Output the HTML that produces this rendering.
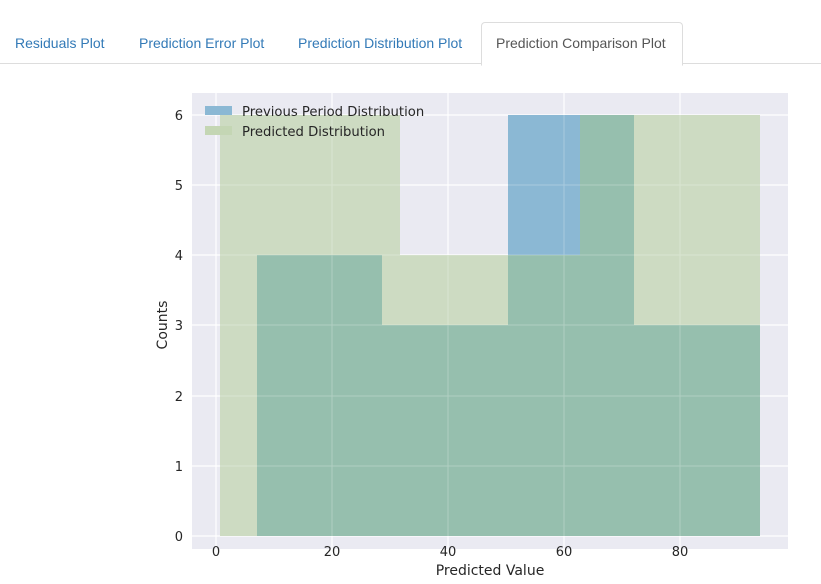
<!DOCTYPE html>
<html><head><style>
body{margin:0;width:821px;height:584px;background:#fff;font-family:"Liberation Sans",sans-serif;position:relative;overflow:hidden}
.tab{position:absolute;top:35px;font-size:14px;color:#337ab7}
</style></head><body>
<div style="position:absolute;left:0;top:63px;width:821px;height:1px;background:#ddd"></div>
<div style="position:absolute;left:481px;top:22px;width:200px;height:42px;border:1px solid #ddd;border-bottom:1px solid #fff;border-radius:4px 4px 0 0;background:#fff"></div>
<div class="tab" style="left:15px">Residuals Plot</div>
<div class="tab" style="left:139px">Prediction Error Plot</div>
<div class="tab" style="left:298px">Prediction Distribution Plot</div>
<div class="tab" style="left:496px;color:#555">Prediction Comparison Plot</div>
<svg width="821" height="584" style="position:absolute;left:0;top:0" font-family="DejaVu Sans, sans-serif">
<rect x="192" y="93" width="596" height="456" fill="#eaeaf2"/>
<g stroke="#fff" stroke-width="1.2">
<line x1="216" y1="93" x2="216" y2="549"/><line x1="332" y1="93" x2="332" y2="549"/><line x1="448" y1="93" x2="448" y2="549"/><line x1="564" y1="93" x2="564" y2="549"/><line x1="680" y1="93" x2="680" y2="549"/>
<line x1="192" y1="115" x2="788" y2="115"/><line x1="192" y1="185" x2="788" y2="185"/><line x1="192" y1="255" x2="788" y2="255"/><line x1="192" y1="325" x2="788" y2="325"/><line x1="192" y1="396" x2="788" y2="396"/><line x1="192" y1="466" x2="788" y2="466"/><line x1="192" y1="536" x2="788" y2="536"/>
</g>
<rect x="220" y="115" width="180" height="421" fill="#cddbc2"/>
<rect x="400" y="255" width="180" height="281" fill="#cddbc2"/>
<rect x="580" y="115" width="180" height="421" fill="#cddbc2"/>
<rect x="508" y="115" width="72" height="140" fill="#8bb8d4"/>
<rect x="257" y="255" width="125" height="281" fill="#96bfae"/>
<rect x="382" y="325" width="126" height="211" fill="#96bfae"/>
<rect x="508" y="255" width="72" height="281" fill="#96bfae"/>
<rect x="580" y="115" width="54" height="421" fill="#96bfae"/>
<rect x="634" y="325" width="126" height="211" fill="#96bfae"/>
<g stroke="#fff" stroke-width="1" opacity="0.25">
<line x1="216" y1="93" x2="216" y2="549"/><line x1="332" y1="93" x2="332" y2="549"/><line x1="448" y1="93" x2="448" y2="549"/><line x1="564" y1="93" x2="564" y2="549"/><line x1="680" y1="93" x2="680" y2="549"/>
<line x1="192" y1="185" x2="788" y2="185"/><line x1="192" y1="255" x2="788" y2="255"/><line x1="192" y1="325" x2="788" y2="325"/><line x1="192" y1="396" x2="788" y2="396"/><line x1="192" y1="466" x2="788" y2="466"/>
</g>
<rect x="205" y="106" width="27" height="9" fill="#8bb8d4"/>
<rect x="205" y="126" width="27" height="9" fill="#c4d6b4"/>
<g font-size="13.2" fill="#262626">
<text x="242" y="116">Previous Period Distribution</text>
<text x="242" y="136">Predicted Distribution</text>
</g>
<g font-size="13" fill="#262626" text-anchor="end">
<text x="183" y="120">6</text><text x="183" y="190">5</text><text x="183" y="260">4</text><text x="183" y="330">3</text><text x="183" y="401">2</text><text x="183" y="471">1</text><text x="183" y="541">0</text>
</g>
<g font-size="13" fill="#262626" text-anchor="middle">
<text x="216" y="556">0</text><text x="332" y="556">20</text><text x="448" y="556">40</text><text x="564" y="556">60</text><text x="680" y="556">80</text>
<text x="490" y="575" font-size="14">Predicted Value</text>
<text transform="translate(167,325) rotate(-90)" font-size="14">Counts</text>
</g>
</svg>
</body></html>
